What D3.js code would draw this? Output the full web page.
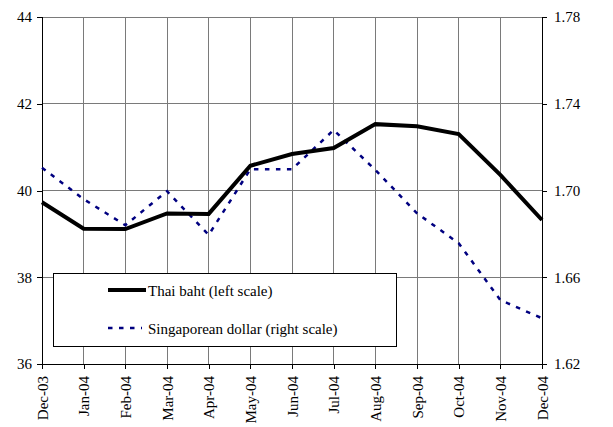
<!DOCTYPE html>
<html>
<head>
<meta charset="utf-8">
<script src="https://cdn.jsdelivr.net/npm/d3@7"></script>
<style>
  body { margin: 0; background: #fff; }
  svg { display: block; }
  svg text { font-family: "Liberation Serif", "Times New Roman", "DejaVu Serif", serif; font-size: 15px; fill: #000; }
  .axis path, .axis line { stroke: #000; shape-rendering: crispEdges; }
  .grid line { stroke: #7a7a7a; shape-rendering: crispEdges; }
</style>
</head>
<body>
<div id="chart"></div>
<script>
// ===== Data =====
const months = ["Dec-03","Jan-04","Feb-04","Mar-04","Apr-04","May-04","Jun-04",
                "Jul-04","Aug-04","Sep-04","Oct-04","Nov-04","Dec-04"];
const thaiBaht = [39.73, 39.12, 39.11, 39.47, 39.46, 40.57, 40.84, 40.98, 41.53, 41.48, 41.30, 40.36, 39.32];
const sgdDollar = [1.7105, 1.6960, 1.6840, 1.6997, 1.6795, 1.7098, 1.7098, 1.7279, 1.7095, 1.6895, 1.6757, 1.6495, 1.6411];
const leftTicks = [36, 38, 40, 42, 44];
const rightTicks = [1.62, 1.66, 1.70, 1.74, 1.78];
const seriesNames = ["Thai baht (left scale)", "Singaporean dollar (right scale)"];

// ===== Config =====
const WIDTH = 613, HEIGHT = 427;
const M = { top: 17, right: 71, bottom: 63, left: 42 };
const w = WIDTH - M.left - M.right;   // 500
const h = HEIGHT - M.top - M.bottom;  // 347

const svg = d3.select("#chart").append("svg")
  .attr("width", WIDTH).attr("height", HEIGHT);

const g = svg.append("g").attr("transform", `translate(${M.left},${M.top})`);

const x = d3.scalePoint().domain(months).range([0, w]).padding(0);
const yL = d3.scaleLinear().domain([36, 44]).range([h, 0]);
const yR = d3.scaleLinear().domain([1.62, 1.78]).range([h, 0]);

// gridlines
const grid = g.append("g").attr("class", "grid");
grid.selectAll("line.v").data(months.slice(1, -1)).join("line").attr("class", "v")
  .attr("x1", d => x(d)).attr("x2", d => x(d)).attr("y1", 0).attr("y2", h);
grid.selectAll("line.hz").data(leftTicks.slice(1)).join("line").attr("class", "hz")
  .attr("x1", 0).attr("x2", w).attr("y1", d => yL(d)).attr("y2", d => yL(d));

// axes
g.append("g").attr("class", "axis")
  .call(d3.axisLeft(yL).tickValues(leftTicks).tickSize(5).tickPadding(5).tickFormat(d3.format("d")));

g.append("g").attr("class", "axis")
  .attr("transform", `translate(${w},0)`)
  .call(d3.axisRight(yR).tickValues(rightTicks).tickSize(5).tickPadding(7).tickFormat(d3.format(".2f")));

const xAxis = g.append("g").attr("class", "axis")
  .attr("transform", `translate(0,${h})`)
  .call(d3.axisBottom(x).tickSize(5).tickSizeOuter(0).tickPadding(0));
xAxis.selectAll("text")
  .attr("text-anchor", "end")
  .attr("transform", "rotate(-90)")
  .attr("x", -12).attr("y", 0).attr("dy", "0.35em");

// lines
const thaiLine = d3.line().x((d, i) => x(months[i])).y(d => yL(d));
const sgdLine = d3.line().x((d, i) => x(months[i])).y(d => yR(d));

g.append("path").datum(sgdDollar)
  .attr("fill", "none").attr("stroke", "#000080").attr("stroke-width", 2.5)
  .attr("stroke-dasharray", "4.5,6.5").attr("d", sgdLine);

g.append("path").datum(thaiBaht)
  .attr("fill", "none").attr("stroke", "#000").attr("stroke-width", 4)
  .attr("stroke-linejoin", "miter").attr("d", thaiLine);

// legend
const legend = svg.append("g").attr("class", "legend")
  .attr("transform", "translate(53,273)");
legend.append("rect")
  .attr("x", 0.5).attr("y", 0.5).attr("width", 343).attr("height", 73)
  .attr("fill", "#fff").attr("stroke", "#000").attr("stroke-width", 1);

legend.append("line")
  .attr("x1", 55).attr("x2", 93).attr("y1", 17).attr("y2", 17)
  .attr("stroke", "#000").attr("stroke-width", 4);
legend.append("text").attr("x", 95).attr("y", 23).text(seriesNames[0]);

legend.append("line")
  .attr("x1", 55).attr("x2", 89).attr("y1", 55).attr("y2", 55)
  .attr("stroke", "#000080").attr("stroke-width", 2.5).attr("stroke-dasharray", "4.5,6.5");
legend.append("text").attr("x", 95).attr("y", 61).text(seriesNames[1]);
</script>
</body>
</html>
